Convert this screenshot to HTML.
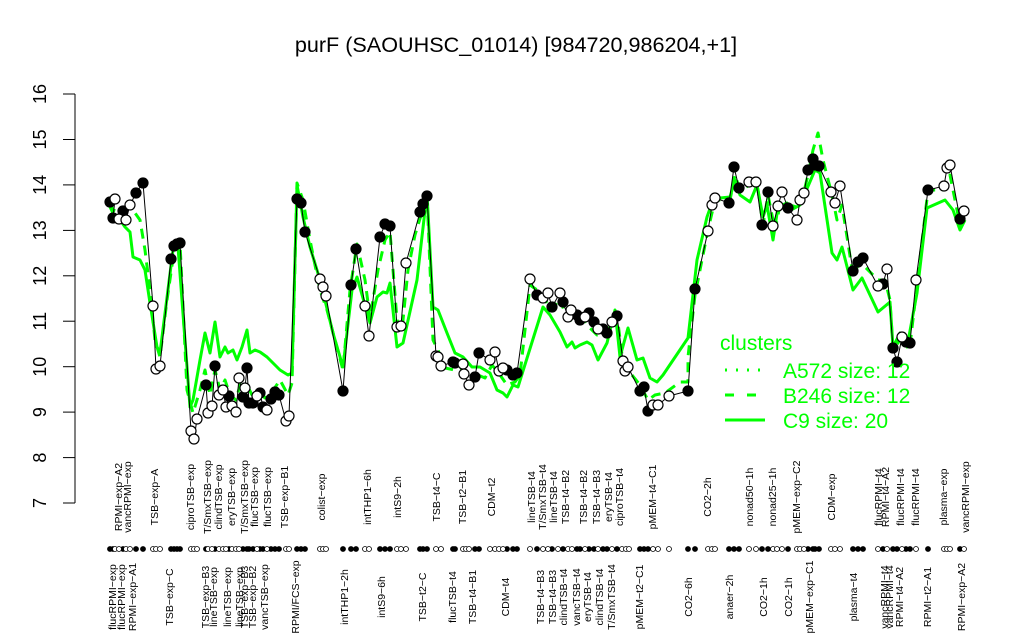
<!DOCTYPE html>
<html>
<head>
<meta charset="utf-8">
<style>
  html,body{margin:0;padding:0;background:#fff;}
  svg{display:block;}
  text{font-family:"Liberation Sans",Arial,sans-serif;}
</style>
</head>
<body>
<svg width="1024" height="640" viewBox="0 0 1024 640" xmlns="http://www.w3.org/2000/svg">
<rect width="1024" height="640" fill="#fff"/>

<!-- title -->
<text x="516" y="52" font-size="21.6" text-anchor="middle" fill="#000">purF (SAOUHSC_01014) [984720,986204,+1]</text>

<!-- y axis -->
<g stroke="#000" stroke-width="1" fill="none">
  <line x1="75" y1="94" x2="75" y2="503"/>
  <line x1="63" y1="503" x2="75" y2="503"/>
  <line x1="63" y1="457.6" x2="75" y2="457.6"/>
  <line x1="63" y1="412.1" x2="75" y2="412.1"/>
  <line x1="63" y1="366.7" x2="75" y2="366.7"/>
  <line x1="63" y1="321.2" x2="75" y2="321.2"/>
  <line x1="63" y1="275.8" x2="75" y2="275.8"/>
  <line x1="63" y1="230.4" x2="75" y2="230.4"/>
  <line x1="63" y1="184.9" x2="75" y2="184.9"/>
  <line x1="63" y1="139.5" x2="75" y2="139.5"/>
  <line x1="63" y1="94" x2="75" y2="94"/>
</g>
<g font-size="18" fill="#000" text-anchor="middle">
  <text transform="translate(46,503) rotate(-90)">7</text>
  <text transform="translate(46,457.6) rotate(-90)">8</text>
  <text transform="translate(46,412.1) rotate(-90)">9</text>
  <text transform="translate(46,366.7) rotate(-90)">10</text>
  <text transform="translate(46,321.2) rotate(-90)">11</text>
  <text transform="translate(46,275.8) rotate(-90)">12</text>
  <text transform="translate(46,230.4) rotate(-90)">13</text>
  <text transform="translate(46,184.9) rotate(-90)">14</text>
  <text transform="translate(46,139.5) rotate(-90)">15</text>
  <text transform="translate(46,94) rotate(-90)">16</text>
</g>

<!-- cluster lines -->
<g fill="none" stroke="#00ff00" stroke-width="3" stroke-linejoin="round">
<polyline points="110,207 113,213 120,220 125,227 130,232 133,257 140,260 145,270 150,303 157,347 160,353 173,250 178,247 190,407 193,400 200,360 205,333 210,353 215,322 220,357 225,347 228,353 233,350 237,360 242,347 247,330 250,353 255,350 260,352 267,357 273,363 280,370 288,375 292,373 297,185 303,217 310,247 320,280 333,333 343,367 352,290 357,277 370,323 377,297 383,292 387,293 390,283 397,347 403,343 417,280 427,193 433,307 438,310 447,333 455,353 463,357 472,367 480,367 490,373 497,390 503,393 507,397 513,385 518,387 543,307 550,315 560,332 567,347 572,342 575,348 580,345 587,342 592,345 598,360 607,343 615,310 620,357 628,328 637,360 643,358 650,378 657,382 663,375 688,338 697,260 707,217 712,203 720,198 730,197 735,180 740,195 750,202 757,185 763,217 767,205 773,240 778,207 787,203 793,209 800,205 815,170 820,173 832,253 837,260 842,247 853,290 862,278 878,312 890,302 893,347 900,333 907,347 917,293 927,208 945,200 953,210 960,230 965,220"/>
<polyline stroke-dasharray="10,7" points="110,203 113,210 120,212 128,218 135,213 140,220 145,250 150,290 155,340 160,357 167,300 175,245 180,243 187,390 193,413 200,390 205,370 210,395 215,370 220,390 225,380 230,395 236,400 240,385 247,385 252,395 258,392 265,398 272,392 280,380 288,395 292,383 297,183 303,200 310,240 320,290 327,310 335,340 343,370 350,290 357,244 365,280 370,318 378,270 385,240 390,232 397,320 402,330 408,270 415,235 422,212 427,195 433,340 438,350 445,368 455,370 462,368 470,385 478,375 485,378 492,365 500,375 507,385 515,382 520,375 530,285 537,290 545,300 552,310 560,298 567,320 575,320 583,318 590,328 597,335 605,332 612,325 617,315 622,355 628,370 640,385 648,400 655,395 665,393 680,382 688,382 688,357 695,295 708,230 715,200 730,200 735,175 740,190 750,185 757,183 763,225 768,195 775,230 780,205 790,205 800,208 808,175 813,150 818,133 823,160 832,195 837,220 842,205 853,275 860,262 866,268 878,280 885,280 890,300 893,350 900,340 906,345 910,345 917,285 928,190 944,190 950,175 960,225 965,215"/>
</g>

<!-- data line -->
<polyline fill="none" stroke="#000" stroke-width="1" points="110,202 115,199 113,218 119,219 123,211 126,220 130,205 136,193 143,183 153,306 156,369 160,366 171,259 174,246 177,244 180,243 191,431 194,439 197,419 206,385 208,413 212,406 215,366 219,395 223,390 226,407 229,396 232,406 236,412 239,378 243,397 245,388 247,368 249,403 253,403 257,396 260,393 263,407 267,410 271,399 275,392 279,395 286,421 289,416 297,199 301,203 305,232 320,279 323,287 326,296 343,391 351,285 356,249 365,306 369,336 380,237 385,224 390,226 397,327 401,326 406,263 420,212 423,204 427,196 436,356 438,357 441,366 453,362 455,363 463,364 464,374 469,385 475,377 479,353 490,360 495,352 499,371 503,368 507,370 513,375 517,373 530,279 537,295 543,298 548,293 552,307 560,293 563,302 568,317 571,310 577,315 580,320 585,317 589,313 594,322 598,329 603,329 607,333 612,322 617,316 623,361 625,371 628,367 640,391 644,387 648,411 653,405 658,405 669,396 688,391 695,289 708,231 712,205 715,198 729,203 734,167 739,188 749,182 756,182 762,225 768,192 773,226 778,206 782,192 788,208 797,220 800,200 804,193 808,170 813,159 815,165 819,166 831,192 835,203 840,186 853,271 858,262 863,258 878,286 883,284 887,269 893,348 897,362 902,337 906,342 910,343 916,280 928,190 944,186 947,168 950,165 960,219 964,211"/>

<!-- points -->
<g stroke="#000" stroke-width="1.2">
<g fill="#000">
<circle cx="110" cy="202" r="5"/><circle cx="113" cy="218" r="5"/><circle cx="123" cy="211" r="5"/><circle cx="136" cy="193" r="5"/><circle cx="143" cy="183" r="5"/>
<circle cx="171" cy="259" r="5"/><circle cx="174" cy="246" r="5"/><circle cx="177" cy="244" r="5"/><circle cx="180" cy="243" r="5"/>
<circle cx="206" cy="385" r="5"/><circle cx="215" cy="366" r="5"/><circle cx="229" cy="396" r="5"/><circle cx="243" cy="397" r="5"/><circle cx="247" cy="368" r="5"/><circle cx="249" cy="403" r="5"/><circle cx="253" cy="403" r="5"/><circle cx="260" cy="393" r="5"/><circle cx="263" cy="407" r="5"/><circle cx="271" cy="399" r="5"/><circle cx="275" cy="392" r="5"/><circle cx="279" cy="395" r="5"/>
<circle cx="297" cy="199" r="5"/><circle cx="301" cy="203" r="5"/><circle cx="305" cy="232" r="5"/><circle cx="343" cy="391" r="5"/><circle cx="351" cy="285" r="5"/><circle cx="356" cy="249" r="5"/><circle cx="380" cy="237" r="5"/><circle cx="385" cy="224" r="5"/><circle cx="390" cy="226" r="5"/><circle cx="420" cy="212" r="5"/><circle cx="423" cy="204" r="5"/><circle cx="427" cy="196" r="5"/>
<circle cx="453" cy="362" r="5"/><circle cx="455" cy="363" r="5"/><circle cx="475" cy="377" r="5"/><circle cx="479" cy="353" r="5"/><circle cx="507" cy="370" r="5"/><circle cx="513" cy="375" r="5"/><circle cx="517" cy="373" r="5"/>
<circle cx="537" cy="295" r="5"/><circle cx="552" cy="307" r="5"/><circle cx="563" cy="302" r="5"/><circle cx="577" cy="315" r="5"/><circle cx="580" cy="320" r="5"/><circle cx="589" cy="313" r="5"/><circle cx="594" cy="322" r="5"/><circle cx="603" cy="329" r="5"/><circle cx="607" cy="333" r="5"/><circle cx="617" cy="316" r="5"/>
<circle cx="640" cy="391" r="5"/><circle cx="644" cy="387" r="5"/><circle cx="648" cy="411" r="5"/><circle cx="688" cy="391" r="5"/><circle cx="695" cy="289" r="5"/>
<circle cx="729" cy="203" r="5"/><circle cx="734" cy="167" r="5"/><circle cx="739" cy="188" r="5"/><circle cx="762" cy="225" r="5"/><circle cx="768" cy="192" r="5"/><circle cx="788" cy="208" r="5"/><circle cx="808" cy="170" r="5"/><circle cx="813" cy="159" r="5"/><circle cx="815" cy="165" r="5"/><circle cx="819" cy="166" r="5"/>
<circle cx="853" cy="271" r="5"/><circle cx="858" cy="262" r="5"/><circle cx="863" cy="258" r="5"/><circle cx="883" cy="284" r="5"/><circle cx="893" cy="348" r="5"/><circle cx="897" cy="362" r="5"/><circle cx="906" cy="342" r="5"/><circle cx="910" cy="343" r="5"/><circle cx="928" cy="190" r="5"/><circle cx="960" cy="219" r="5"/>
</g>
<g fill="#fff">
<circle cx="115" cy="199" r="5"/><circle cx="119" cy="219" r="5"/><circle cx="126" cy="220" r="5"/><circle cx="130" cy="205" r="5"/><circle cx="153" cy="306" r="5"/><circle cx="156" cy="369" r="5"/><circle cx="160" cy="366" r="5"/>
<circle cx="191" cy="431" r="5"/><circle cx="194" cy="439" r="5"/><circle cx="197" cy="419" r="5"/><circle cx="208" cy="413" r="5"/><circle cx="212" cy="406" r="5"/><circle cx="219" cy="395" r="5"/><circle cx="223" cy="390" r="5"/><circle cx="226" cy="407" r="5"/><circle cx="232" cy="406" r="5"/><circle cx="236" cy="412" r="5"/><circle cx="239" cy="378" r="5"/><circle cx="245" cy="388" r="5"/><circle cx="257" cy="396" r="5"/><circle cx="267" cy="410" r="5"/><circle cx="286" cy="421" r="5"/><circle cx="289" cy="416" r="5"/>
<circle cx="320" cy="279" r="5"/><circle cx="323" cy="287" r="5"/><circle cx="326" cy="296" r="5"/><circle cx="365" cy="306" r="5"/><circle cx="369" cy="336" r="5"/><circle cx="397" cy="327" r="5"/><circle cx="401" cy="326" r="5"/><circle cx="406" cy="263" r="5"/>
<circle cx="436" cy="356" r="5"/><circle cx="438" cy="357" r="5"/><circle cx="441" cy="366" r="5"/><circle cx="463" cy="364" r="5"/><circle cx="464" cy="374" r="5"/><circle cx="469" cy="385" r="5"/><circle cx="490" cy="360" r="5"/><circle cx="495" cy="352" r="5"/><circle cx="499" cy="371" r="5"/><circle cx="503" cy="368" r="5"/>
<circle cx="530" cy="279" r="5"/><circle cx="543" cy="298" r="5"/><circle cx="548" cy="293" r="5"/><circle cx="560" cy="293" r="5"/><circle cx="568" cy="317" r="5"/><circle cx="571" cy="310" r="5"/><circle cx="585" cy="317" r="5"/><circle cx="598" cy="329" r="5"/><circle cx="612" cy="322" r="5"/>
<circle cx="623" cy="361" r="5"/><circle cx="625" cy="371" r="5"/><circle cx="628" cy="367" r="5"/><circle cx="653" cy="405" r="5"/><circle cx="658" cy="405" r="5"/><circle cx="669" cy="396" r="5"/>
<circle cx="708" cy="231" r="5"/><circle cx="712" cy="205" r="5"/><circle cx="715" cy="198" r="5"/><circle cx="749" cy="182" r="5"/><circle cx="756" cy="182" r="5"/><circle cx="773" cy="226" r="5"/><circle cx="778" cy="206" r="5"/><circle cx="782" cy="192" r="5"/><circle cx="797" cy="220" r="5"/><circle cx="800" cy="200" r="5"/><circle cx="804" cy="193" r="5"/>
<circle cx="831" cy="192" r="5"/><circle cx="835" cy="203" r="5"/><circle cx="840" cy="186" r="5"/><circle cx="878" cy="286" r="5"/><circle cx="887" cy="269" r="5"/><circle cx="902" cy="337" r="5"/><circle cx="916" cy="280" r="5"/><circle cx="944" cy="186" r="5"/><circle cx="947" cy="168" r="5"/><circle cx="950" cy="165" r="5"/><circle cx="964" cy="211" r="5"/>
</g>
</g>

<!-- marker row -->
<g stroke="#000" stroke-width="0.8">
<g fill="#000">
<circle cx="110" cy="549" r="2.5"/><circle cx="113" cy="549" r="2.5"/><circle cx="123" cy="549" r="2.5"/><circle cx="136" cy="549" r="2.5"/><circle cx="143" cy="549" r="2.5"/>
<circle cx="171" cy="549" r="2.5"/><circle cx="174" cy="549" r="2.5"/><circle cx="177" cy="549" r="2.5"/><circle cx="180" cy="549" r="2.5"/>
<circle cx="206" cy="549" r="2.5"/><circle cx="215" cy="549" r="2.5"/><circle cx="229" cy="549" r="2.5"/><circle cx="243" cy="549" r="2.5"/><circle cx="247" cy="549" r="2.5"/><circle cx="249" cy="549" r="2.5"/><circle cx="253" cy="549" r="2.5"/><circle cx="260" cy="549" r="2.5"/><circle cx="263" cy="549" r="2.5"/><circle cx="271" cy="549" r="2.5"/><circle cx="275" cy="549" r="2.5"/><circle cx="279" cy="549" r="2.5"/>
<circle cx="297" cy="549" r="2.5"/><circle cx="301" cy="549" r="2.5"/><circle cx="305" cy="549" r="2.5"/><circle cx="343" cy="549" r="2.5"/><circle cx="351" cy="549" r="2.5"/><circle cx="356" cy="549" r="2.5"/><circle cx="380" cy="549" r="2.5"/><circle cx="385" cy="549" r="2.5"/><circle cx="390" cy="549" r="2.5"/><circle cx="420" cy="549" r="2.5"/><circle cx="423" cy="549" r="2.5"/><circle cx="427" cy="549" r="2.5"/>
<circle cx="453" cy="549" r="2.5"/><circle cx="455" cy="549" r="2.5"/><circle cx="475" cy="549" r="2.5"/><circle cx="479" cy="549" r="2.5"/><circle cx="507" cy="549" r="2.5"/><circle cx="513" cy="549" r="2.5"/><circle cx="517" cy="549" r="2.5"/>
<circle cx="537" cy="549" r="2.5"/><circle cx="552" cy="549" r="2.5"/><circle cx="563" cy="549" r="2.5"/><circle cx="577" cy="549" r="2.5"/><circle cx="580" cy="549" r="2.5"/><circle cx="589" cy="549" r="2.5"/><circle cx="594" cy="549" r="2.5"/><circle cx="603" cy="549" r="2.5"/><circle cx="607" cy="549" r="2.5"/><circle cx="617" cy="549" r="2.5"/>
<circle cx="640" cy="549" r="2.5"/><circle cx="644" cy="549" r="2.5"/><circle cx="648" cy="549" r="2.5"/><circle cx="688" cy="549" r="2.5"/><circle cx="695" cy="549" r="2.5"/>
<circle cx="729" cy="549" r="2.5"/><circle cx="734" cy="549" r="2.5"/><circle cx="739" cy="549" r="2.5"/><circle cx="762" cy="549" r="2.5"/><circle cx="768" cy="549" r="2.5"/><circle cx="788" cy="549" r="2.5"/><circle cx="808" cy="549" r="2.5"/><circle cx="813" cy="549" r="2.5"/><circle cx="815" cy="549" r="2.5"/><circle cx="819" cy="549" r="2.5"/>
<circle cx="853" cy="549" r="2.5"/><circle cx="858" cy="549" r="2.5"/><circle cx="863" cy="549" r="2.5"/><circle cx="883" cy="549" r="2.5"/><circle cx="893" cy="549" r="2.5"/><circle cx="897" cy="549" r="2.5"/><circle cx="906" cy="549" r="2.5"/><circle cx="910" cy="549" r="2.5"/><circle cx="928" cy="549" r="2.5"/><circle cx="960" cy="549" r="2.5"/>
</g>
<g fill="#fff">
<circle cx="115" cy="549" r="2.5"/><circle cx="119" cy="549" r="2.5"/><circle cx="126" cy="549" r="2.5"/><circle cx="130" cy="549" r="2.5"/><circle cx="153" cy="549" r="2.5"/><circle cx="156" cy="549" r="2.5"/><circle cx="160" cy="549" r="2.5"/>
<circle cx="191" cy="549" r="2.5"/><circle cx="194" cy="549" r="2.5"/><circle cx="197" cy="549" r="2.5"/><circle cx="208" cy="549" r="2.5"/><circle cx="212" cy="549" r="2.5"/><circle cx="219" cy="549" r="2.5"/><circle cx="223" cy="549" r="2.5"/><circle cx="226" cy="549" r="2.5"/><circle cx="232" cy="549" r="2.5"/><circle cx="236" cy="549" r="2.5"/><circle cx="239" cy="549" r="2.5"/><circle cx="257" cy="549" r="2.5"/><circle cx="267" cy="549" r="2.5"/><circle cx="286" cy="549" r="2.5"/><circle cx="289" cy="549" r="2.5"/>
<circle cx="320" cy="549" r="2.5"/><circle cx="323" cy="549" r="2.5"/><circle cx="326" cy="549" r="2.5"/><circle cx="365" cy="549" r="2.5"/><circle cx="369" cy="549" r="2.5"/><circle cx="397" cy="549" r="2.5"/><circle cx="401" cy="549" r="2.5"/><circle cx="406" cy="549" r="2.5"/>
<circle cx="436" cy="549" r="2.5"/><circle cx="441" cy="549" r="2.5"/><circle cx="463" cy="549" r="2.5"/><circle cx="466" cy="549" r="2.5"/><circle cx="469" cy="549" r="2.5"/><circle cx="490" cy="549" r="2.5"/><circle cx="495" cy="549" r="2.5"/><circle cx="499" cy="549" r="2.5"/><circle cx="503" cy="549" r="2.5"/>
<circle cx="530" cy="549" r="2.5"/><circle cx="543" cy="549" r="2.5"/><circle cx="548" cy="549" r="2.5"/><circle cx="558" cy="549" r="2.5"/><circle cx="568" cy="549" r="2.5"/><circle cx="572" cy="549" r="2.5"/><circle cx="585" cy="549" r="2.5"/><circle cx="598" cy="549" r="2.5"/><circle cx="612" cy="549" r="2.5"/>
<circle cx="622" cy="549" r="2.5"/><circle cx="626" cy="549" r="2.5"/><circle cx="629" cy="549" r="2.5"/><circle cx="653" cy="549" r="2.5"/><circle cx="658" cy="549" r="2.5"/><circle cx="669" cy="549" r="2.5"/>
<circle cx="708" cy="549" r="2.5"/><circle cx="712" cy="549" r="2.5"/><circle cx="715" cy="549" r="2.5"/><circle cx="749" cy="549" r="2.5"/><circle cx="756" cy="549" r="2.5"/><circle cx="773" cy="549" r="2.5"/><circle cx="777" cy="549" r="2.5"/><circle cx="782" cy="549" r="2.5"/><circle cx="797" cy="549" r="2.5"/><circle cx="800" cy="549" r="2.5"/><circle cx="804" cy="549" r="2.5"/>
<circle cx="831" cy="549" r="2.5"/><circle cx="835" cy="549" r="2.5"/><circle cx="840" cy="549" r="2.5"/><circle cx="878" cy="549" r="2.5"/><circle cx="887" cy="549" r="2.5"/><circle cx="902" cy="549" r="2.5"/><circle cx="916" cy="549" r="2.5"/><circle cx="944" cy="549" r="2.5"/><circle cx="947" cy="549" r="2.5"/><circle cx="950" cy="549" r="2.5"/><circle cx="964" cy="549" r="2.5"/>
</g>
</g>

<!-- x labels top row -->
<g font-size="10.5" fill="#000" text-anchor="middle">
<text transform="translate(122,497) rotate(-90)">RPMI−exp−A2</text>
<text transform="translate(131,497) rotate(-90)">vancRPMI−exp</text>
<text transform="translate(158,497) rotate(-90)">TSB−exp−A</text>
<text transform="translate(194,497) rotate(-90)">ciproTSB−exp</text>
<text transform="translate(211,497) rotate(-90)">T/SmxTSB−exp</text>
<text transform="translate(222,497) rotate(-90)">clindTSB−exp</text>
<text transform="translate(235,497) rotate(-90)">eryTSB−exp</text>
<text transform="translate(248,497) rotate(-90)">T/SmxTSB−exp</text>
<text transform="translate(258,497) rotate(-90)">flucTSB−exp</text>
<text transform="translate(271,497) rotate(-90)">flucTSB−exp</text>
<text transform="translate(288,497) rotate(-90)">TSB−exp−B1</text>
<text transform="translate(325,497) rotate(-90)">colist−exp</text>
<text transform="translate(371,497) rotate(-90)">intTHP1−6h</text>
<text transform="translate(401,497) rotate(-90)">intS9−2h</text>
<text transform="translate(440,497) rotate(-90)">TSB−t4−C</text>
<text transform="translate(466,497) rotate(-90)">TSB−t2−B1</text>
<text transform="translate(495,497) rotate(-90)">CDM−t2</text>
<text transform="translate(535,497) rotate(-90)">lineTSB−t4</text>
<text transform="translate(546,497) rotate(-90)">T/SmxTSB−t4</text>
<text transform="translate(557,497) rotate(-90)">lineTSB−t4</text>
<text transform="translate(569,497) rotate(-90)">TSB−t4−B2</text>
<text transform="translate(587,497) rotate(-90)">TSB−t4−B2</text>
<text transform="translate(600,497) rotate(-90)">TSB−t4−B3</text>
<text transform="translate(612,497) rotate(-90)">eryTSB−t4</text>
<text transform="translate(623,497) rotate(-90)">ciproTSB−t4</text>
<text transform="translate(656,497) rotate(-90)">pMEM−t4−C1</text>
<text transform="translate(711,497) rotate(-90)">CO2−2h</text>
<text transform="translate(753,497) rotate(-90)">nonad50−1h</text>
<text transform="translate(776,497) rotate(-90)">nonad25−1h</text>
<text transform="translate(800,497) rotate(-90)">pMEM−exp−C2</text>
<text transform="translate(835,497) rotate(-90)">CDM−exp</text>
<text transform="translate(882,497) rotate(-90)">flucRPMI−t4</text>
<text transform="translate(889,497) rotate(-90)">RPMI−t4−A2</text>
<text transform="translate(904,497) rotate(-90)">flucRPMI−t4</text>
<text transform="translate(919,497) rotate(-90)">flucRPMI−t4</text>
<text transform="translate(947,497) rotate(-90)">plasma−exp</text>
<text transform="translate(969,497) rotate(-90)">vancRPMI−exp</text>
</g>

<!-- x labels bottom row -->
<g font-size="10.5" fill="#000" text-anchor="middle">
<text transform="translate(116,597) rotate(-90)">flucRPMI−exp</text>
<text transform="translate(125,597) rotate(-90)">flucRPMI−exp</text>
<text transform="translate(136,597) rotate(-90)">RPMI−exp−A1</text>
<text transform="translate(173,597) rotate(-90)">TSB−exp−C</text>
<text transform="translate(209,597) rotate(-90)">TSB−exp−B3</text>
<text transform="translate(217,597) rotate(-90)">lineTSB−exp</text>
<text transform="translate(231,597) rotate(-90)">lineTSB−exp</text>
<text transform="translate(243,597) rotate(-90)">lineTSB−exp</text>
<text transform="translate(248,597) rotate(-90)">TSB−exp−B3</text>
<text transform="translate(256,597) rotate(-90)">TSB−exp−B2</text>
<text transform="translate(268,597) rotate(-90)">vancTSB−exp</text>
<text transform="translate(299,597) rotate(-90)">RPMI/FCS−exp</text>
<text transform="translate(348,597) rotate(-90)">intTHP1−2h</text>
<text transform="translate(385,597) rotate(-90)">intS9−6h</text>
<text transform="translate(426,597) rotate(-90)">TSB−t2−C</text>
<text transform="translate(456,597) rotate(-90)">flucTSB−t4</text>
<text transform="translate(476,597) rotate(-90)">TSB−t4−B1</text>
<text transform="translate(509,597) rotate(-90)">CDM−t4</text>
<text transform="translate(544,597) rotate(-90)">TSB−t4−B3</text>
<text transform="translate(556,597) rotate(-90)">TSB−t4−B3</text>
<text transform="translate(567,597) rotate(-90)">clindTSB−t4</text>
<text transform="translate(580,597) rotate(-90)">vancTSB−t4</text>
<text transform="translate(591,597) rotate(-90)">eryTSB−t4</text>
<text transform="translate(603,597) rotate(-90)">clindTSB−t4</text>
<text transform="translate(615,597) rotate(-90)">T/SmxTSB−t4</text>
<text transform="translate(643,597) rotate(-90)">pMEM−t2−C1</text>
<text transform="translate(692,597) rotate(-90)">CO2−6h</text>
<text transform="translate(733,597) rotate(-90)">anaer−2h</text>
<text transform="translate(767,597) rotate(-90)">CO2−1h</text>
<text transform="translate(792,597) rotate(-90)">CO2−1h</text>
<text transform="translate(813,597) rotate(-90)">pMEM−exp−C1</text>
<text transform="translate(857,597) rotate(-90)">plasma−t4</text>
<text transform="translate(888,597) rotate(-90)">vancRPMI−t4</text>
<text transform="translate(893,597) rotate(-90)">vancRPMI−t4</text>
<text transform="translate(903,597) rotate(-90)">RPMI−t4−A2</text>
<text transform="translate(931,597) rotate(-90)">RPMI−t2−A1</text>
<text transform="translate(965,597) rotate(-90)">RPMI−exp−A2</text>
</g>

<!-- legend -->
<g fill="#00ff00" font-size="21">
<text x="720" y="350">clusters</text>
<text x="783" y="378">A572 size: 12</text>
<text x="783" y="403">B246 size: 12</text>
<text x="783" y="428">C9 size: 20</text>
</g>
<g stroke="#00ff00" stroke-width="3" fill="none">
<line x1="725" y1="370" x2="765" y2="370" stroke-dasharray="2,9"/>
<line x1="725" y1="395" x2="765" y2="395" stroke-dasharray="9,13"/>
<line x1="725" y1="420" x2="765" y2="420"/>
</g>
</svg>
</body>
</html>
